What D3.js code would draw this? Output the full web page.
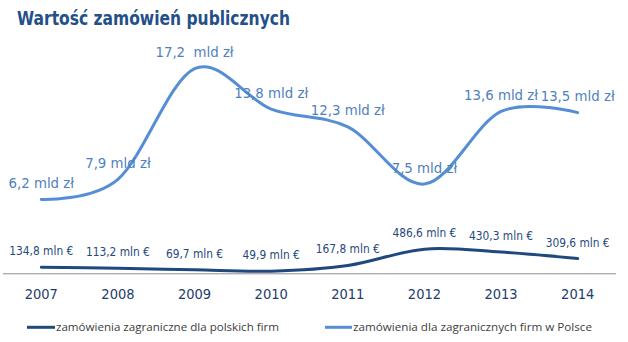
<!DOCTYPE html>
<html>
<head>
<meta charset="utf-8">
<script src="https://cdn.jsdelivr.net/npm/d3@7"></script>
<style>
  html, body { margin: 0; padding: 0; background: #fff; }
  svg { display: block; }
  .cond { font-family: "DejaVu Sans Condensed", "DejaVu Sans", sans-serif; font-stretch: condensed; }
</style>
</head>
<body>
<svg id="chart" width="628" height="342"></svg>
<script>
// ---- data ----
const years = ["2007", "2008", "2009", "2010", "2011", "2012", "2013", "2014"];
// foreign firms' contracts in Poland, mld zł
const inPolandValues = [6.2, 7.9, 17.2, 13.8, 12.3, 7.5, 13.6, 13.5];
const inPolandLabels = ["6,2 mld zł", "7,9 mld zł", "17,2  mld zł", "13,8 mld zł", "12,3 mld zł", "7,5 mld zł", "13,6 mld zł", "13,5 mld zł"];
// Polish firms' contracts abroad, mln € (plotted in mld zł equivalent)
const abroadValues = [0.51, 0.42, 0.29, 0.18, 0.66, 2.03, 1.78, 1.24];
const abroadLabels = ["134,8 mln €", "113,2 mln €", "69,7 mln €", "49,9 mln €", "167,8 mln €", "486,6 mln €", "430,3 mln €", "309,6 mln €"];
const seriesNames = ["zamówienia zagraniczne dla polskich firm", "zamówienia dla zagranicznych firm w Polsce"];
const titleText = "Wartość zamówień publicznych";

// ---- layout ----
const svg = d3.select("#chart");
const baseY = 273.3;
const x = d3.scaleBand().domain(years).range([3, 616]).padding(0);
const cx = d => x(d) + x.bandwidth() / 2;
const y = d3.scaleLinear().domain([0, 20]).range([baseY, baseY - 238]);

const lightColor = "#558ED5";
const lightText = "#4F81BD";
const darkColor = "#1F497D";
const darkText = "#1F497D";

// title
const title = svg.append("text")
  .attr("class", "cond")
  .attr("x", 17).attr("y", 25)
  .attr("font-size", 19.5).attr("font-weight", "bold")
  .attr("fill", "#24508A")
  .text(titleText);
title.attr("textLength", 273).attr("lengthAdjust", "spacingAndGlyphs");

// axis
const xAxis = d3.axisBottom(x).tickSize(0).tickPadding(0);
const axisG = svg.append("g").attr("transform", `translate(0,${baseY})`).call(xAxis);
axisG.select(".domain").attr("stroke", "#8C8C8C").attr("stroke-width", 1)
  .attr("d", `M3,0.5H616`);
axisG.selectAll(".tick text")
  .attr("class", "cond")
  .attr("font-size", 14.5)
  .attr("fill", "#1F3D6B")
  .attr("dy", null)
  .attr("y", 26);

// lines
const line = d3.line()
  .x((d, i) => cx(years[i]))
  .y(d => y(d))
  .curve(d3.curveCatmullRom.alpha(0));

svg.append("path").datum(abroadValues)
  .attr("d", line).attr("fill", "none")
  .attr("stroke", darkColor).attr("stroke-width", 3).attr("stroke-linecap", "round");

svg.append("path").datum(inPolandValues)
  .attr("d", line).attr("fill", "none")
  .attr("stroke", lightColor).attr("stroke-width", 3).attr("stroke-linecap", "round");

// labels
svg.append("g").selectAll("text").data(inPolandValues).join("text")
  .attr("class", "cond")
  .attr("x", (d, i) => cx(years[i]))
  .attr("y", d => y(d) - 11.5)
  .attr("text-anchor", "middle")
  .attr("font-size", 14.8)
  .attr("fill", lightText)
  .style("white-space", "pre")
  .text((d, i) => inPolandLabels[i]);

svg.append("g").selectAll("text").data(abroadValues).join("text")
  .attr("class", "cond")
  .attr("x", (d, i) => cx(years[i]))
  .attr("y", d => y(d) - 12)
  .attr("text-anchor", "middle")
  .attr("font-size", 11.8)
  .attr("fill", darkText)
  .text((d, i) => abroadLabels[i]);

// legend
const legend = [
  { name: seriesNames[0], color: darkColor, x0: 27, x1: 55, tx: 56, w: 223 },
  { name: seriesNames[1], color: lightColor, x0: 325, x1: 352, tx: 353, w: 239 }
];
const lg = svg.append("g");
legend.forEach(l => {
  lg.append("line").attr("x1", l.x0).attr("x2", l.x1).attr("y1", 327.3).attr("y2", 327.3)
    .attr("stroke", l.color).attr("stroke-width", 3);
  lg.append("text").attr("x", l.tx).attr("y", 331)
    .attr("font-family", "'Open Sans', 'Liberation Sans', sans-serif")
    .attr("font-size", 11)
    .attr("fill", "#404040")
    .attr("textLength", l.w).attr("lengthAdjust", "spacingAndGlyphs")
    .text(l.name);
});
</script>
</body>
</html>
